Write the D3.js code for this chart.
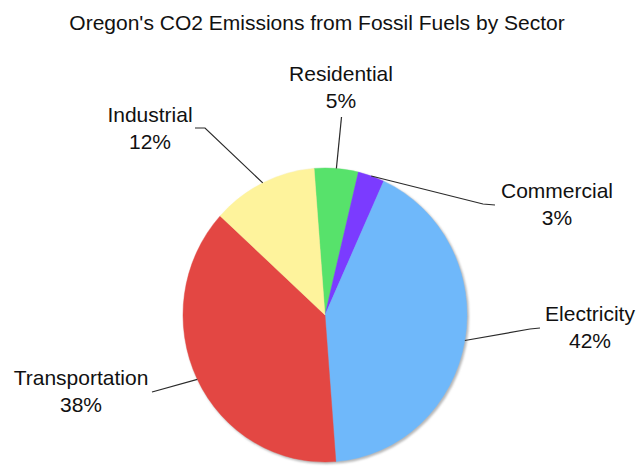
<!DOCTYPE html>
<html>
<head>
<meta charset="utf-8">
<script src="https://cdn.jsdelivr.net/npm/d3@7"></script>
<style>
  html, body { margin: 0; padding: 0; background: #fff; }
  svg { display: block; }
  text { font-family: "Liberation Sans", Arial, Helvetica, sans-serif; fill: #111; }
</style>
</head>
<body>
<svg id="chart" width="638" height="466"></svg>
<script>
// ---- Data ----
const sectors = ["Residential", "Commercial", "Electricity", "Transportation", "Industrial"];
const shares  = [5, 3, 42, 38, 12];
const colors  = ["#57e26b", "#7b3bff", "#6fb8fa", "#e34743", "#fef39c"];
const title   = "Oregon's CO2 Emissions from Fossil Fuels by Sector";

// ---- Layout ----
const W = 638, H = 466;
const cx = 325, cy = 315, rx = 142, ry = 147;
const startDeg = -4.4;
const fontSize = 21;
// label text centre (x), first baseline (y), leader end (ex, ey), elbow (bx, by) optional
const labelLayout = {
  "Residential":    { x: 341, y: 81,  ex: 341.5, ey: 117 },
  "Commercial":     { x: 557, y: 198, ex: 495, ey: 205, bx: 483, by: 204 },
  "Electricity":    { x: 590, y: 321, ex: 540, ey: 328, bx: 530, by: 329 },
  "Transportation": { x: 81,  y: 385, ex: 152, ey: 392 },
  "Industrial":     { x: 150, y: 122, ex: 195, ey: 128, bx: 205, by: 128 }
};

const data = sectors.map((s, i) => ({ name: s, value: shares[i], color: colors[i] }));

const svg = d3.select("#chart");

svg.append("text")
  .attr("x", 317).attr("y", 30)
  .attr("text-anchor", "middle")
  .style("font-size", fontSize + "px")
  .text(title);

const defs = svg.append("defs");
defs.append("filter").attr("id", "blur")
  .attr("x", "-10%").attr("y", "-10%").attr("width", "120%").attr("height", "120%")
  .append("feGaussianBlur").attr("stdDeviation", 1);

const pie = d3.pie().sort(null).value(d => d.value)
  .startAngle(startDeg * Math.PI / 180)
  .endAngle(startDeg * Math.PI / 180 + 2 * Math.PI);
const arcs = pie(data);
const arc = d3.arc().innerRadius(0).outerRadius(rx);

// shadow
svg.append("ellipse")
  .attr("cx", cx + 1.5).attr("cy", cy + 1.5)
  .attr("rx", rx + 0.5).attr("ry", ry + 0.5)
  .attr("fill", "#b8b8b8")
  .attr("filter", "url(#blur)");

const g = svg.append("g")
  .attr("transform", `translate(${cx},${cy}) scale(1,${ry / rx})`);

g.selectAll("path.slice")
  .data(arcs)
  .join("path")
  .attr("class", "slice")
  .attr("d", arc)
  .attr("fill", d => d.data.color)
  .attr("stroke", d => d.data.color)
  .attr("stroke-width", 0.4);

// leader lines
const edgePoint = d => {
  const a = (d.startAngle + d.endAngle) / 2;
  return [cx + rx * Math.sin(a), cy - ry * Math.cos(a)];
};

svg.selectAll("path.leader")
  .data(arcs)
  .join("path")
  .attr("class", "leader")
  .attr("fill", "none")
  .attr("stroke", "#2a2a2a")
  .attr("stroke-width", 1.2)
  .attr("d", d => {
    const L = labelLayout[d.data.name];
    const p = edgePoint(d);
    const pts = [p];
    if (L.bx !== undefined) pts.push([L.bx, L.by]);
    pts.push([L.ex, L.ey]);
    return d3.line()(pts);
  });

// labels
const lbl = svg.selectAll("g.label")
  .data(arcs)
  .join("g")
  .attr("class", "label");

lbl.append("text")
  .attr("x", d => labelLayout[d.data.name].x)
  .attr("y", d => labelLayout[d.data.name].y)
  .attr("text-anchor", "middle")
  .style("font-size", fontSize + "px")
  .text(d => d.data.name);

lbl.append("text")
  .attr("x", d => labelLayout[d.data.name].x)
  .attr("y", d => labelLayout[d.data.name].y + 27)
  .attr("text-anchor", "middle")
  .style("font-size", fontSize + "px")
  .text(d => d.data.value + "%");
</script>
</body>
</html>
